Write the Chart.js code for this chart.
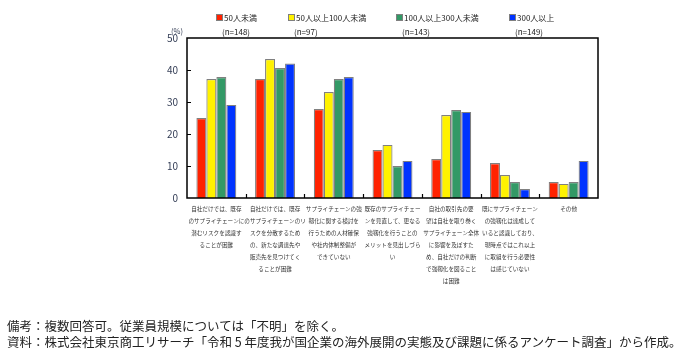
<!DOCTYPE html>
<html><head><meta charset="utf-8">
<script src="https://cdn.jsdelivr.net/npm/chart.js@4"></script>
<style>
html,body{margin:0;padding:0;background:#fff;}
#wrap{position:relative;width:681px;height:357px;overflow:hidden;background:#fff;}
#c{position:absolute;left:0;top:0;}
.note{position:absolute;left:7px;font-family:"Noto Sans CJK JP";font-size:12.5px;color:#222;white-space:nowrap;line-height:16px;}
</style></head><body>
<div id="wrap"><canvas id="c" width="681" height="357"></canvas>
<div class="note" style="top:318px">備考：複数回答可。従業員規模については「不明」を除く。</div>
<div class="note" style="top:334px">資料：株式会社東京商工リサーチ「令和 5 年度我が国企業の海外展開の実態及び課題に係るアンケート調査」から作成。</div>
</div>
<script>
const categories = [
  ['自社だけでは、既存','のサプライチェーンに','潜むリスクを認識す','ることが困難'],
  ['自社だけでは、既存','のサプライチェーンのリ','スクを分散するため','の、新たな調達先や','販売先を見つけてく','ることが困難'],
  ['サプライチェーンの強','靱化に関する検討を','行うための人材確保','や社内体制整備が','できていない'],
  ['既存のサプライチェー','ンを見直して、更なる','強靱化を行うことの','メリットを見出しづら','い'],
  ['自社の取引先の要','望は自社を取り巻く','サプライチェーン全体','に影響を及ぼすた','め、自社だけの判断','で強靱化を図ること','は困難'],
  ['既にサプライチェーン','の強靱化は達成して','いると認識しており、','現時点ではこれ以上','に取組を行う必要性','は感じていない'],
  ['その他']
];
const seriesNames = ['50人未満','50人以上100人未満','100人以上300人未満','300人以上'];
const sampleSizes = ['(n=148)','(n=97)','(n=143)','(n=149)'];
const under50 = [25.0, 37.2, 27.8, 15.0, 12.2, 10.9, 5.0];
const from50to100 = [37.2, 43.4, 33.1, 16.6, 25.9, 7.2, 4.4];
const from100to300 = [37.8, 40.6, 37.2, 10.0, 27.5, 5.0, 5.0];
const over300 = [29.1, 42.0, 37.8, 11.6, 26.9, 2.8, 11.6];
const yTickValues = [0, 10, 20, 30, 40, 50];

const colors = ['#FF2200', '#FFF200', '#339966', '#0033FF'];
const seriesData = [under50, from50to100, from100to300, over300];
const FONT = '"Noto Sans CJK JP"';

const framePlugin = {
  id: 'frame',
  afterDraw(chart) {
    const ctx = chart.ctx;
    const a = chart.chartArea;
    const x = chart.scales.x, y = chart.scales.y;
    ctx.save();
    ctx.strokeStyle = '#000';
    ctx.lineWidth = 1.5;
    ctx.strokeRect(a.left, a.top, a.right - a.left, a.bottom - a.top);
    ctx.lineWidth = 1.2;
    ctx.beginPath();
    yTickValues.forEach(v => {
      if (v === 0 || v === 50) return;
      const py = Math.round(y.getPixelForValue(v)) + 0.5;
      ctx.moveTo(a.left, py); ctx.lineTo(a.left + 4, py);
    });
    for (let i = 0; i < categories.length - 1; i++) {
      const px = Math.round((x.getPixelForTick(i) + x.getPixelForTick(i + 1)) / 2) + 0.5;
      ctx.moveTo(px, a.bottom); ctx.lineTo(px, a.bottom - 4);
    }
    ctx.stroke();
    // legend
    const legendX = [216, 288, 396, 509];
    ctx.textBaseline = 'middle';
    ctx.textAlign = 'left';
    for (let i = 0; i < seriesNames.length; i++) {
      const lx = legendX[i];
      ctx.fillStyle = colors[i];
      ctx.fillRect(lx, 14, 7, 7);
      ctx.strokeStyle = '#7f7f7f';
      ctx.lineWidth = 1;
      ctx.strokeRect(lx + 0.5, 14.5, 6, 6);
      ctx.fillStyle = '#222';
      ctx.font = '8px ' + FONT;
      ctx.fillText(seriesNames[i], lx + 8, 18);
      ctx.fillText(sampleSizes[i], lx + 6, 32);
    }
    ctx.font = '7.5px ' + FONT;
    ctx.fillStyle = '#333d55';
    ctx.textAlign = 'center';
    ctx.fillText('(%)', 177, 31);
    ctx.restore();
  }
};

new Chart(document.getElementById('c'), {
  type: 'bar',
  data: {
    labels: categories,
    datasets: seriesData.map((d, i) => ({
      label: seriesNames[i],
      data: d,
      backgroundColor: colors[i],
      borderColor: '#808080',
      borderWidth: 1.2,
      categoryPercentage: 0.68,
      barPercentage: 1.0
    }))
  },
  options: {
    responsive: false,
    animation: false,
    devicePixelRatio: 1,
    layout: { padding: { top: 38, right: 83, left: 0, bottom: 0 } },
    plugins: { legend: { display: false }, tooltip: { enabled: false } },
    scales: {
      x: {
        grid: { display: false, drawTicks: false },
        border: { display: false },
        ticks: {
          autoSkip: false, maxRotation: 0, minRotation: 0, padding: 5,
          color: '#333',
          font: { family: FONT, size: 5.6, lineHeight: '12px' }
        },
        afterFit(s) { s.height = 159; }
      },
      y: {
        min: 0, max: 50,
        grid: { display: false, drawTicks: false },
        border: { display: false },
        ticks: {
          stepSize: 10, padding: 9, color: '#333d55',
          font: { family: FONT, size: 10 }
        },
        afterFit(s) { s.width = 187; }
      }
    }
  },
  plugins: [framePlugin]
});
</script>
</body></html>
